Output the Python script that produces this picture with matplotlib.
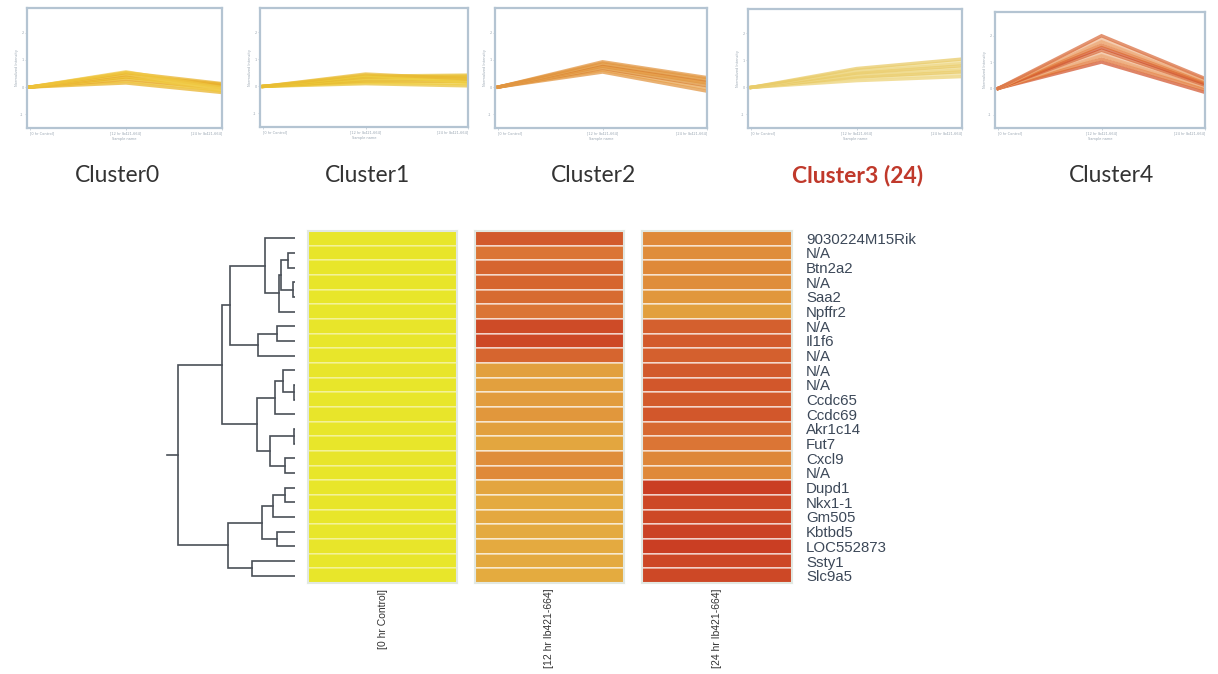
import numpy as np
import matplotlib.pyplot as plt
from matplotlib.colors import LinearSegmentedColormap

W, H = 1218, 674

# cluster profile panels: every line starts at 0, then 12 hr and 24 hr values
cluster_names = ["Cluster0", "Cluster1", "Cluster2", "Cluster3 (24)", "Cluster4"]
time_labels = ["[0 hr Control]", "[12 hr Ib421-664]", "[24 hr Ib421-664]"]

c0_mid = [0.15, 0.22, 0.28, 0.33, 0.37, 0.41, 0.45, 0.49, 0.53, 0.56]
c0_end = [-0.20, -0.12, -0.05, 0.00, 0.05, -0.15, 0.10, -0.08, 0.13, -0.02]
c1_mid = [0.10, 0.15, 0.20, 0.25, 0.30, 0.34, 0.38, 0.42, 0.46]
c1_end = [0.02, 0.10, 0.18, 0.25, 0.32, 0.38, 0.42, 0.15, 0.28]
c2_mid = [0.55, 0.62, 0.68, 0.72, 0.76, 0.80, 0.84, 0.88, 0.93]
c2_end = [-0.15, -0.05, 0.05, 0.10, 0.15, 0.20, 0.25, 0.30, 0.35]
c3_mid = [0.25, 0.32, 0.38, 0.43, 0.48, 0.53, 0.58, 0.64, 0.70]
c3_end = [0.40, 0.50, 0.58, 0.65, 0.72, 0.80, 0.88, 0.96, 1.05]
c4_mid = [1.00, 1.12, 1.25, 1.35, 1.45, 1.55, 1.65, 1.78, 1.90, 2.00]
c4_end = [-0.15, -0.05, 0.02, 0.08, 0.12, 0.18, 0.22, 0.28, 0.33, 0.38]

panel_mid = [c0_mid, c1_mid, c2_mid, c3_mid, c4_mid]
panel_end = [c0_end, c1_end, c2_end, c3_end, c4_end]
panel_colors = [
    ["#e8b020", "#f0c840", "#e8a830", "#f2d050"],
    ["#e8c030", "#f0d040", "#e8b830"],
    ["#e09038", "#e8a048", "#d88030", "#eab060"],
    ["#ecd070", "#f0dc90", "#e8c860"],
    ["#d05028", "#e07030", "#e89050", "#f0b890", "#d86838"],
]
panel_boxes = [(27, 8, 222, 128), (260, 8, 468, 127), (495, 8, 707, 128),
               (748, 9, 962, 128), (995, 12, 1205, 128)]
label_x = [117, 368, 594, 858, 1112]

# heatmap rows (top to bottom) and scaled expression per time point
genes = ["9030224M15Rik", "N/A", "Btn2a2", "N/A", "Saa2", "Npffr2", "N/A", "Il1f6",
         "N/A", "N/A", "N/A", "Ccdc65", "Ccdc69", "Akr1c14", "Fut7", "Cxcl9", "N/A",
         "Dupd1", "Nkx1-1", "Gm505", "Kbtbd5", "LOC552873", "Ssty1", "Slc9a5"]
expr_0h = [0.0, 0.01, 0.0, 0.01, 0.0, 0.0, 0.01, 0.0, 0.0, 0.01, 0.0, 0.0,
           0.01, 0.0, 0.0, 0.01, 0.0, 0.0, 0.01, 0.0, 0.0, 0.01, 0.0, 0.0]
expr_12h = [0.85, 0.72, 0.80, 0.80, 0.77, 0.72, 0.92, 0.93, 0.80, 0.50, 0.50, 0.52,
            0.55, 0.50, 0.47, 0.60, 0.62, 0.48, 0.45, 0.46, 0.45, 0.45, 0.45, 0.44]
expr_24h = [0.62, 0.60, 0.62, 0.60, 0.55, 0.50, 0.82, 0.84, 0.82, 0.85, 0.86, 0.84,
            0.86, 0.78, 0.72, 0.63, 0.62, 0.98, 0.93, 0.93, 0.96, 0.98, 0.94, 0.93]

# row dendrogram: (child a, child b, height); new nodes numbered from 24 on
merges = [(3, 4, 0.17), (1, 2, 0.67), (25, 24, 1.43), (26, 5, 1.6), (0, 27, 3.0),
          (6, 7, 1.83), (29, 8, 3.67), (28, 30, 6.5), (10, 11, 0.1), (9, 32, 1.17),
          (33, 12, 2.0), (13, 14, 0.1), (15, 16, 1.0), (35, 36, 2.5), (34, 37, 3.83),
          (31, 38, 7.33), (17, 18, 1.0), (40, 19, 2.17), (20, 21, 1.83), (41, 42, 3.33),
          (22, 23, 4.33), (43, 44, 6.67), (39, 45, 11.67)]
root_stub = 12.83

cmap = LinearSegmentedColormap.from_list(
    "yor", [(0, "#e8e62a"), (0.45, "#e4aa40"), (0.7, "#dc7a36"), (1.0, "#c93a22")])


def px_axes(fig, x0, y0, x1, y1):
    return fig.add_axes([x0 / W, 1 - y1 / H, (x1 - x0) / W, (y1 - y0) / H])


fig = plt.figure(figsize=(W / 100, H / 100), dpi=100)
fig.patch.set_facecolor("white")

# top row of cluster profiles
for k in range(5):
    ax = px_axes(fig, *panel_boxes[k])
    cols = panel_colors[k]
    for j, (m, e) in enumerate(zip(panel_mid[k], panel_end[k])):
        ax.plot([0, 1, 2], [0, m, e], color=cols[j % len(cols)], lw=2.4, alpha=0.7,
                solid_joinstyle="miter")
    ax.set_xlim(-0.03, 2.0)
    ax.set_ylim(-1.5, 2.9)
    ax.set_yticks([-1, 0, 1, 2])
    ax.set_yticklabels(["-1", "0", "1", "2"])
    ax.set_xticks([0, 1, 2])
    ax.set_xticklabels(time_labels)
    ax.get_xticklabels()[0].set_ha("left")
    ax.get_xticklabels()[-1].set_ha("right")
    ax.tick_params(labelsize=2.5, labelcolor="#9aa6b2", color="#b8c4d0",
                   length=1.5, width=0.5, pad=1)
    for s in ax.spines.values():
        s.set_color("#b4c4d2")
        s.set_linewidth(1.6)
    ax.set_ylabel("Normalized Intensity", fontsize=2.5, color="#9aa6b2", labelpad=1)
    ax.set_xlabel("Sample name", fontsize=2.5, color="#9aa6b2", labelpad=1)

for k, name in enumerate(cluster_names):
    if k == 3:
        fig.text(label_x[k] / W, 1 - 176 / H, name, ha="center", va="center",
                 fontsize=16.5, family="Lato", weight="bold", color="#c0392b")
    else:
        fig.text(label_x[k] / W, 1 - 176 / H, name, ha="center", va="center",
                 fontsize=16.5, family="Lato", color="#333333")

# heatmap columns
col_px = [(308, 457), (475, 624), (642, 792)]
col_vals = [expr_0h, expr_12h, expr_24h]
n = len(genes)
for c in range(3):
    ax = px_axes(fig, col_px[c][0], 231, col_px[c][1], 583)
    z = np.array(col_vals[c]).reshape(n, 1)
    edge = (1, 1, 1, 0.3) if c == 0 else (1, 1, 1, 0.5)
    ax.pcolormesh(np.arange(2), np.arange(n + 1), z, cmap=cmap, vmin=0, vmax=1,
                  edgecolors=edge, linewidth=1.1)
    ax.set_xlim(0, 1)
    ax.set_ylim(n, 0)
    ax.set_xticks([0.5])
    ax.set_xticklabels([time_labels[c]], rotation=90, fontsize=7.5,
                       family="Liberation Sans", color="#333333")
    ax.tick_params(axis="x", length=0, pad=4)
    if c == 2:
        ax.yaxis.tick_right()
        ax.set_yticks(np.arange(n) + 0.5)
        ax.set_yticklabels(genes, fontsize=10.8, family="Liberation Sans",
                           color="#3c4858")
        ax.tick_params(axis="y", length=0, pad=10)
    else:
        ax.set_yticks([])
    for s in ax.spines.values():
        s.set_color("#e2e8e2")
        s.set_linewidth(1.5)

# dendrogram on the left
dax = px_axes(fig, 160, 231, 295, 583)
pos = {i: (0.0, i + 0.5) for i in range(n)}
for idx, (a, b, h) in enumerate(merges):
    ha_, ya = pos[a]
    hb, yb = pos[b]
    dax.plot([ha_, h, h, hb], [ya, ya, yb, yb], color="#4a5058", lw=1.2,
             solid_joinstyle="miter")
    pos[n + idx] = (h, (ya + yb) / 2)
rh, ry = pos[n + len(merges) - 1]
dax.plot([rh, root_stub], [ry, ry], color="#4a5058", lw=1.2)
dax.set_xlim(13.5, 0)
dax.set_ylim(n, 0)
dax.axis("off")

fig.savefig("out.png", dpi=100)
